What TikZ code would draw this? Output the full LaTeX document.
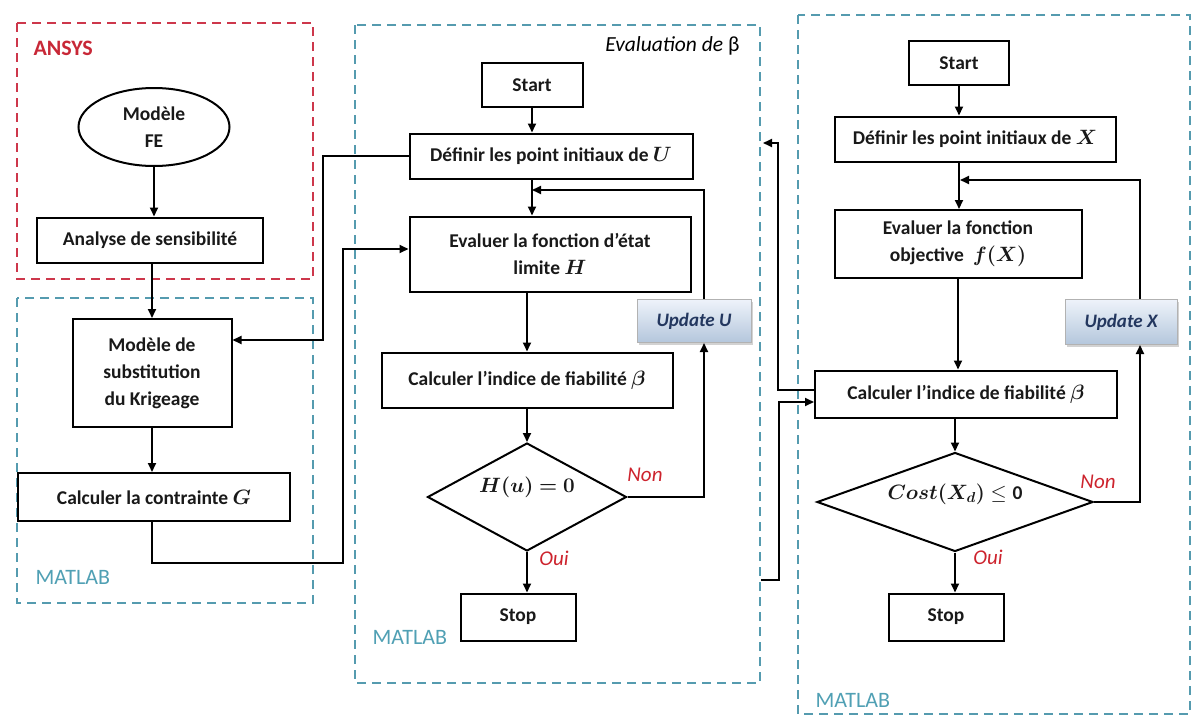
\documentclass[tikz,border=0pt]{standalone}
\usepackage{amsmath,bm}
\usepackage{fontspec}
\setmainfont{Carlito}
\usetikzlibrary{shapes.geometric,shadows,arrows.meta,calc}
\definecolor{frred}{RGB}{205,55,75}
\definecolor{frblue}{RGB}{85,155,175}
\definecolor{lblred}{RGB}{200,40,55}
\definecolor{lblblue}{RGB}{80,160,180}
\definecolor{updtop}{RGB}{238,243,250}
\definecolor{updbot}{RGB}{180,198,220}
\definecolor{updtxt}{RGB}{35,55,95}
\definecolor{ynred}{RGB}{205,35,45}
\newcommand{\ztext}[2]{\smash{\makebox[0pt]{\raisebox{#1}{#2}}}}
\tikzset{
  base/.style={font=\fontsize{19.5}{27}\selectfont\bfseries, text=black!90},
  box/.style={base, draw, line width=2pt, fill=white, align=center, inner sep=2pt},
  updbox/.style={font=\fontsize{19}{22}\selectfont\bfseries\itshape, text=updtxt, draw=gray!60, line width=1pt,
    top color=updtop, bottom color=updbot, drop shadow={opacity=0.35, shadow xshift=2pt, shadow yshift=-2pt}},
  conn/.style={line width=1.8pt},
  arr/.style={conn, -{Triangle[length=9pt,width=8pt]}},
  frame/.style={line width=1.8pt, dash pattern=on 9pt off 6pt},
  yesno/.style={font=\fontsize{21}{24}\selectfont\itshape, text=ynred},
  matlab/.style={font=\fontsize{22}{26}\selectfont, text=lblblue, anchor=west},
}
\begin{document}
\begin{tikzpicture}[x=1pt,y=-1pt]
\useasboundingbox[fill=white] (0,0) rectangle (1194,720);
% frames
\draw[frame, draw=frred] (17,23) rectangle (313,279);
\draw[frame, draw=frblue] (17,298) rectangle (313,603);
\draw[frame, draw=frblue] (355,25) rectangle (760,683);
\draw[frame, draw=frblue] (798,15) rectangle (1190,714);
% frame labels
\node[font=\fontsize{22}{26}\selectfont\bfseries, text=lblred, anchor=west] (ansys) at (30,48) {ANSYS};
\node[matlab] (mat1) at (32,577) {MATLAB};
\node[matlab] (mat2) at (369,637) {MATLAB};
\node[matlab] (mat3) at (812,700) {MATLAB};
\node[font=\fontsize{21.5}{25}\selectfont\itshape, anchor=east] (evb) at (743,46) {Evaluation de {\upshape β}};
% left column
\node[box, ellipse, minimum width=151pt, minimum height=78pt, inner sep=0pt] (fe) at (154,127) {Modèle\\FE};
\node[box, minimum width=226pt, minimum height=45pt] (ana) at (150,240) {Analyse de sensibilité};
\node[box, minimum width=159pt, minimum height=108pt] (krig) at (152,373) {Modèle de\\substitution\\du Krigeage};
\node[box, minimum width=272pt, minimum height=48pt] (contr) at (154,497) {Calculer la contrainte $\boldsymbol{G}$};
% middle column
\node[box, minimum width=101pt, minimum height=44pt] (start1) at (532,85) {Start};
\node[box, minimum width=283pt, minimum height=45pt] (defU) at (551,156) {Définir les point initiaux de $\boldsymbol{U}$};
\node[box, minimum width=281pt, minimum height=75pt] (evalH) at (550,254) {Evaluer la fonction d'état\\limite $\boldsymbol{H}$};
\node[updbox, minimum width=114pt, minimum height=43pt] (updU) at (694,321) {Update U};
\node[box, minimum width=291pt, minimum height=55pt] (calcB1) at (527,380) {Calculer l'indice de fiabilité $\boldsymbol{\beta}$};
\node[box, diamond, minimum width=199pt, minimum height=108pt, inner sep=0pt] (dia1) at (527,497) {\ztext{5pt}{$\boldsymbol{H(u)=0}$}};
\node[box, minimum width=115pt, minimum height=47pt] (stop1) at (518,617) {Stop};
% right column
\node[box, minimum width=100pt, minimum height=44pt] (start2) at (959,63) {Start};
\node[box, minimum width=281pt, minimum height=45pt] (defX) at (975,139) {Définir les point initiaux de $\boldsymbol{X}$};
\node[box, minimum width=247pt, minimum height=68pt] (evalF) at (958,244) {Evaluer la fonction\\objective \ $\boldsymbol{f(X)}$};
\node[updbox, minimum width=112pt, minimum height=45pt] (updX) at (1121,322) {Update X};
\node[box, minimum width=302pt, minimum height=47pt] (calcB2) at (966,394) {Calculer l'indice de fiabilité $\boldsymbol{\beta}$};
\node[box, diamond, minimum width=276pt, minimum height=99pt, inner sep=0pt] (dia2) at (955,502) {\ztext{3pt}{$\boldsymbol{Cost(X_d)}\leq\mathbf{0}$}};
\node[box, minimum width=115pt, minimum height=47pt] (stop2) at (946,617) {Stop};
% yes/no labels
\node[yesno] (non1) at (645,475) {Non};
\node[yesno] (oui1) at (554,558) {Oui};
\node[yesno] (non2) at (1098,482) {Non};
\node[yesno] (oui2) at (988,557) {Oui};
% helper coordinates
\coordinate (c1) at (343,563);
\coordinate (c2) at (323,340);
\coordinate (c3) at (778,143);
\coordinate (e1) at (763,143);
\coordinate (s1) at (761,580);
\coordinate (c4) at (779,580);
\coordinate (mU) at (532,190);
\coordinate (mX) at (960,180);
% left connectors
\draw[arr] (fe.south) -- (fe.south |- ana.north);
\draw[arr] (ana.south -| krig.north) -- (krig.north);
\draw[arr] (krig.south) -- (krig.south |- contr.north);
\draw[arr] (contr.south -| krig.south) |- (c1) |- ([yshift=5pt]evalH.west);
\draw[arr] (defU.west) -| (c2) -- ([yshift=33pt]krig.east);
% middle connectors
\draw[arr] (start1.south) -- (start1.south |- defU.north);
\draw[arr] (defU.south -| start1.south) -- (evalH.north -| start1.south);
\draw[arr] (evalH.south -| calcB1.north) -- (calcB1.north);
\draw[arr] (calcB1.south) -- (dia1.north);
\draw[arr] (dia1.south) -- (dia1.south |- stop1.north);
\draw[arr] (dia1.east) -| ([xshift=10pt]updU.south);
\draw[arr] ([xshift=10pt]updU.north) |- (mU);
% cross connectors
\draw[arr] ([yshift=4pt]calcB2.west) -| (c3) -- (e1);
\draw[arr] (s1) -- (c4) |- ([yshift=-8pt]calcB2.west);
% right connectors
\draw[arr] (start2.south) -- (start2.south |- defX.north);
\draw[arr] (defX.south -| start2.south) -- (evalF.north -| start2.south);
\draw[arr] (evalF.south) -- (evalF.south |- calcB2.north);
\draw[arr] (calcB2.south -| dia2.north) -- (dia2.north);
\draw[arr] (dia2.south) -- (dia2.south |- stop2.north);
\draw[arr] (dia2.east) -| ([xshift=19pt]updX.south);
\draw[arr] ([xshift=19pt]updX.north) |- (mX);
\end{tikzpicture}
\end{document}
